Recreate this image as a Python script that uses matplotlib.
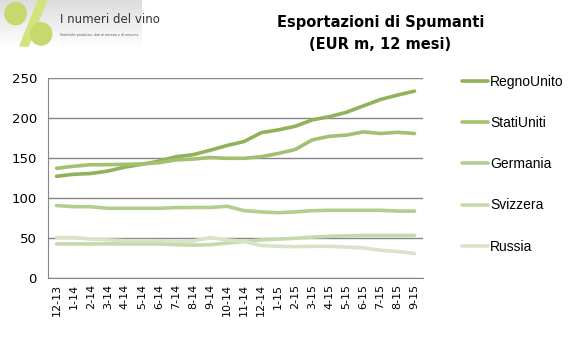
import numpy as np
import matplotlib
matplotlib.use('Agg')
import matplotlib.pyplot as plt
from matplotlib.patches import Ellipse, Polygon

# data (EUR m, rolling 12 months)
mesi = ['12-13', '1-14', '2-14', '3-14', '4-14', '5-14', '6-14', '7-14', '8-14', '9-14', '10-14',
        '11-14', '12-14', '1-15', '2-15', '3-15', '4-15', '5-15', '6-15', '7-15', '8-15', '9-15']
regno_unito = [127.5, 130, 131, 134, 139, 142.5, 146.5, 152, 154.5, 160, 166, 171,
               182, 185.5, 190, 198, 202, 207.5, 215.5, 223.5, 229, 234]
stati_uniti = [137.5, 140, 142, 142, 142.5, 143, 144.5, 148, 149, 151, 150, 150,
               152, 156, 161, 173, 177.5, 179, 183, 181, 182.5, 181]
germania = [91, 89.5, 89.5, 87.5, 87.5, 87.5, 87.5, 88.3, 88.5, 88.5, 90, 84.6,
            83, 82, 83, 84.5, 85, 85, 85, 85, 84, 84]
svizzera = [43, 43, 43, 43, 43, 43, 43, 42, 41.5, 42, 44, 46,
            48, 49, 50, 51.5, 52.5, 53, 53.5, 53.5, 53.5, 53.5]
russia = [51, 51, 49, 48, 47, 47, 47, 46, 46.5, 51, 48, 46,
          41, 40, 39.5, 40, 40, 39, 38, 35, 33.5, 31]

serie = ['RegnoUnito', 'StatiUniti', 'Germania', 'Svizzera', 'Russia']
valori = [regno_unito, stati_uniti, germania, svizzera, russia]
colori = ['#8fb25a', '#a2c170', '#b3cd8f', '#c6d9ab', '#d8e3c8']

fig = plt.figure(figsize=(5.79, 3.46), dpi=100)
fig.patch.set_facecolor('white')

# logo block top-left
lax = fig.add_axes([0, 0.86, 0.245, 0.14])
grad = np.linspace(0.86, 1.0, 50).reshape(-1, 1)
lax.imshow(grad, cmap='gray', vmin=0, vmax=1, aspect='auto', extent=[0, 1, 0, 1])
lax.add_patch(Polygon([[0.27, 1.0], [0.33, 1.0], [0.2, 0.05], [0.14, 0.05]], closed=True,
                      color='#d3e47e', zorder=2))
lax.add_patch(Ellipse((0.11, 0.72), 0.15, 0.46, color='#c5d96e', zorder=3))
lax.add_patch(Ellipse((0.29, 0.3), 0.15, 0.46, color='#c5d96e', zorder=3))
lax.text(0.42, 0.6, 'I numeri del vino', fontsize=8.5, color='#333333', va='center',
         family='DejaVu Sans Condensed')
lax.text(0.42, 0.27, 'Statistiche produttive, dati di mercato e di consumo.', fontsize=2.2,
         color='#555555', va='center')
lax.set_xlim(0, 1)
lax.set_ylim(0, 1)
lax.axis('off')

# title
fig.text(0.657, 0.935, 'Esportazioni di Spumanti', ha='center', va='center',
         fontsize=10.5, fontweight='bold')
fig.text(0.657, 0.872, '(EUR m, 12 mesi)', ha='center', va='center',
         fontsize=10.5, fontweight='bold')

ax = fig.add_axes([0.083, 0.1957, 0.6477, 0.578])
x = np.arange(len(mesi))
for nome, v, c in zip(serie, valori, colori):
    ax.plot(x, v, color=c, lw=2.6, label=nome, solid_capstyle='round')

ax.set_xlim(-0.5, len(mesi) - 0.5)
ax.set_ylim(0, 250)
ax.set_yticks(np.arange(0, 251, 50))
ax.set_xticks(x)
ax.set_xticklabels(mesi, rotation=90, fontsize=8)
ax.tick_params(axis='y', labelsize=9.5, length=0, pad=8)
ax.tick_params(axis='x', length=0, pad=4)
ax.yaxis.grid(True, color='#868686', lw=1)
ax.set_axisbelow(True)
for s in ['top', 'right']:
    ax.spines[s].set_visible(False)
for s in ['left', 'bottom']:
    ax.spines[s].set_color('#868686')

leg = ax.legend(loc='upper left', bbox_to_anchor=(1.07, 1.08), frameon=False,
                labelspacing=1.96, handlelength=1.9, handletextpad=0.15,
                prop={'family': 'Liberation Sans', 'size': 10})
for l in leg.get_lines():
    l.set_linewidth(2.6)

fig.savefig('out.png', dpi=100)
